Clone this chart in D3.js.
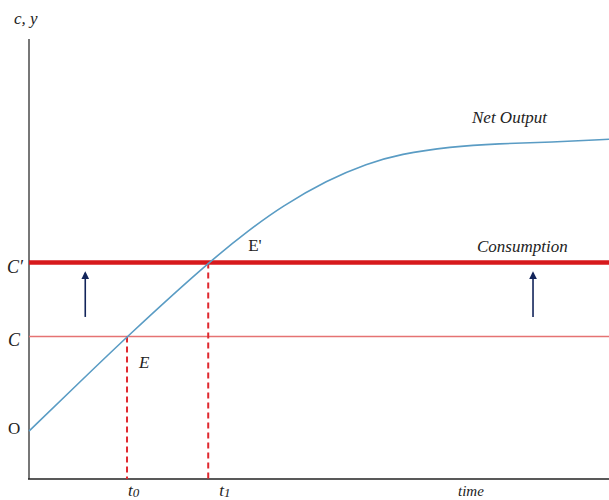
<!DOCTYPE html>
<html><head><meta charset="utf-8">
<script src="https://cdn.jsdelivr.net/npm/d3@7"></script>
<style>
html,body{margin:0;padding:0;background:#fff;}
svg{display:block;}
text{font-family:"Liberation Serif","DejaVu Serif",serif;fill:#222;}
</style></head>
<body>
<svg id="chart" width="609" height="500"></svg>
<script>
// Net output path (time, output)
const outputTime = [0, 0.88, 1.69, 3.09, 3.8, 4.35, 5.14, 5.83, 6.40, 7.26, 8.1, 9.0, 10];
const outputValue = [0, 1.13, 2.17, 3.87, 4.62, 5.15, 5.76, 6.14, 6.36, 6.53, 6.60, 6.63, 6.70];
// Consumption levels
const consumptionLevels = [2.17, 3.87];   // C, C'
const levelLabels = ["C", "C\u2032"];
// Crossing times
const crossTimes = [1.69, 3.09];
const crossLabels = ["t", "t"];
const crossSubs = ["0", "1"];
// Upward arrows (time, from, to)
const arrowTimes = [0.97, 8.69];
const arrowFrom = [2.62, 2.62];
const arrowTo = [3.63, 3.63];

const svg = d3.select("#chart");
const x = d3.scaleLinear().domain([0, 10]).range([29, 609]);
const y = d3.scaleLinear().domain([-1.1, 9]).range([479, 39]);

// axes
svg.append("line").attr("x1", x(0)).attr("x2", x(0)).attr("y1", 39).attr("y2", y(-1.1))
  .attr("stroke", "#777").attr("stroke-width", 2);
svg.append("line").attr("x1", x(0) - 1).attr("x2", 609).attr("y1", y(-1.1)).attr("y2", y(-1.1))
  .attr("stroke", "#222").attr("stroke-width", 1.5);

// consumption lines
svg.append("line").attr("x1", x(0)).attr("x2", x(10)).attr("y1", y(consumptionLevels[0])).attr("y2", y(consumptionLevels[0]))
  .attr("stroke", "#e57373").attr("stroke-width", 1.5);
svg.append("line").attr("x1", x(0)).attr("x2", x(10)).attr("y1", y(consumptionLevels[1])).attr("y2", y(consumptionLevels[1]))
  .attr("stroke", "#d7191c").attr("stroke-width", 4.5);

// dashed verticals
crossTimes.forEach((t, i) => {
  svg.append("line").attr("x1", x(t)).attr("x2", x(t)).attr("y1", y(consumptionLevels[i])).attr("y2", y(-1.1))
    .attr("stroke", "#e0282e").attr("stroke-width", 2).attr("stroke-dasharray", "6,4");
});

// net output curve
const pts = outputTime.map((t, i) => [t, outputValue[i]]);
svg.append("path").datum(pts)
  .attr("d", d3.line().x(d => x(d[0])).y(d => y(d[1])).curve(d3.curveBasis))
  .attr("fill", "none").attr("stroke", "#5a9cc4").attr("stroke-width", 1.6);

// arrows
const defs = svg.append("defs");
defs.append("marker").attr("id", "ah").attr("viewBox", "0 0 10 10").attr("refX", 8).attr("refY", 5)
  .attr("markerWidth", 8).attr("markerHeight", 9).attr("markerUnits", "userSpaceOnUse").attr("orient", "auto")
  .append("path").attr("d", "M0,0 L10,5 L0,10 z").attr("fill", "#12245a");
arrowTimes.forEach((t, i) => {
  svg.append("line").attr("x1", x(t)).attr("x2", x(t)).attr("y1", y(arrowFrom[i])).attr("y2", y(arrowTo[i]))
    .attr("stroke", "#12245a").attr("stroke-width", 1.6).attr("marker-end", "url(#ah)");
});

// texts
svg.append("text").attr("x", 14).attr("y", 24).attr("font-size", 17).attr("font-style", "italic").text("c, y");
svg.append("text").attr("x", 7).attr("y", y(consumptionLevels[1]) + 11).attr("font-size", 18).attr("font-style", "italic").text(levelLabels[1]);
svg.append("text").attr("x", 8).attr("y", y(consumptionLevels[0]) + 9).attr("font-size", 18).attr("font-style", "italic").text(levelLabels[0]);
svg.append("text").attr("x", 8).attr("y", y(0) + 3).attr("font-size", 17).text("O");
svg.append("text").attr("x", x(crossTimes[0]) + 12).attr("y", y(consumptionLevels[0]) + 31).attr("font-size", 17).attr("font-style", "italic").text("E");
svg.append("text").attr("x", x(crossTimes[1]) + 40).attr("y", y(consumptionLevels[1]) - 11).attr("font-size", 17).text("E'");
svg.append("text").attr("x", 472).attr("y", 123).attr("font-size", 17).attr("font-style", "italic").text("Net Output");
svg.append("text").attr("x", 477).attr("y", y(consumptionLevels[1]) - 10).attr("font-size", 17).attr("font-style", "italic").text("Consumption");
crossTimes.forEach((t, i) => {
  const tx = svg.append("text").attr("x", x(t) + 1 + i * 10).attr("y", 496).attr("font-size", 17).attr("font-style", "italic");
  tx.append("tspan").text(crossLabels[i]);
  tx.append("tspan").attr("font-size", 13).attr("dy", 1).text(crossSubs[i]);
});
svg.append("text").attr("x", 458).attr("y", 496).attr("font-size", 15).attr("font-style", "italic").text("time");
</script>
</body></html>
